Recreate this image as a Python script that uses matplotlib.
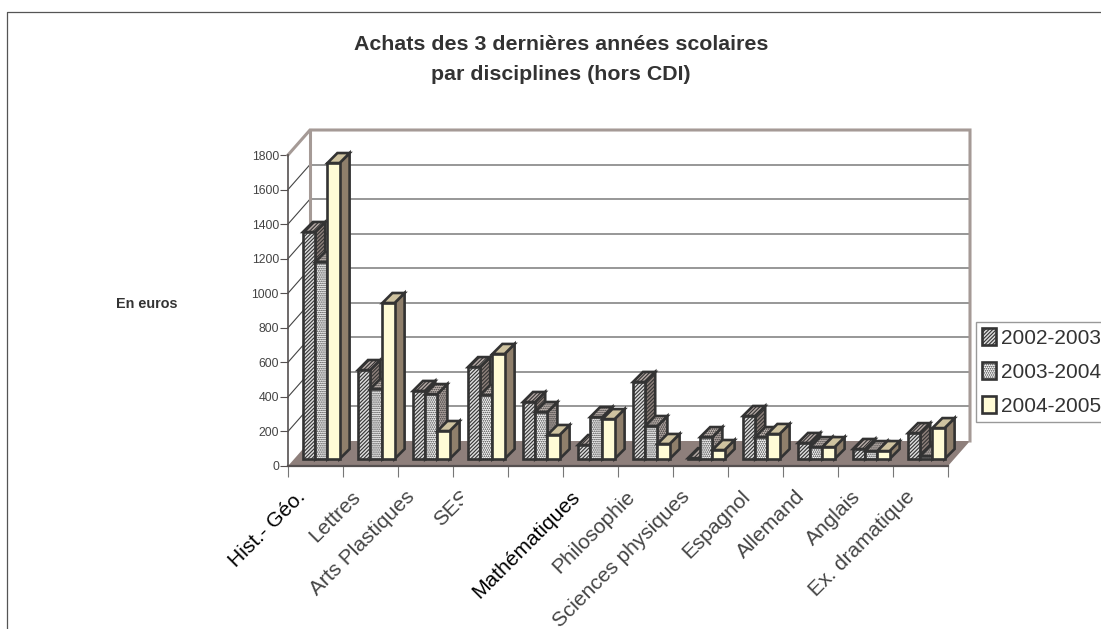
import matplotlib
matplotlib.use('Agg')
import matplotlib.pyplot as plt
from matplotlib.patches import Polygon, Patch
from matplotlib.lines import Line2D
from matplotlib.transforms import Bbox

plt.rcParams['font.family'] = ['Liberation Sans', 'DejaVu Sans']
plt.rcParams['hatch.linewidth'] = 0.8

# Data
categories = ['Hist.- Géo.', 'Lettres', 'Arts Plastiques', 'SES', '', 'Mathématiques',
              'Philosophie', 'Sciences physiques', 'Espagnol', 'Allemand', 'Anglais',
              'Ex. dramatique']
years = ['2002-2003', '2003-2004', '2004-2005']
v_2002 = [1314, 515, 394, 532, 330, 81, 446, 5, 249, 93, 58, 150]
v_2003 = [1140, 405, 376, 370, 272, 243, 191, 127, 127, 69, 46, 17]
v_2004 = [1713, 903, 162, 608, 139, 231, 87, 52, 145, 69, 46, 179]
y_ticks = list(range(0, 2000, 200))

W, H = 1101, 629
fig = plt.figure(figsize=(W / 100, H / 100), dpi=100)
# axes box = front axis of the 3D chart
ax = fig.add_axes([288 / W, 1 - 466 / H, 660 / W, 311 / H])
ax.set_xlim(0, 12)
ax.set_ylim(0, 1800)
ax.patch.set_visible(False)

# pixel sizes in data units
px = 12 / 660
py = 1800 / 311
dx, dy = 22 * px, 25 * py
wall = '#a59a96'

# floor and back wall
ax.add_patch(Polygon([(0, 0), (12, 0), (12 + dx, dy), (dx, dy)], fc='#8e7f7b', ec='none',
                     clip_on=False, zorder=1))
for t in y_ticks[1:-1]:
    ax.plot([dx, 12 + dx], [t + dy, t + dy], color='#858585', lw=1.2, clip_on=False, zorder=1.5)
    ax.plot([0, dx], [t, t + dy], color='#444444', lw=0.8, clip_on=False, zorder=1.5)
ax.plot([0, dx, 12 + dx, 12 + dx], [1800, 1800 + dy, 1800 + dy, dy], color=wall, lw=2.2,
        clip_on=False, zorder=1.6, solid_joinstyle='miter')
ax.plot([dx, dx], [dy, 1800 + dy], color=wall, lw=2.2, clip_on=False, zorder=1.6)


def draw_bar(x0, h, fc, side, top, hatch):
    w = 12.2 * px
    b = 7 * py
    ddx, ddy = 10 * px, 10 * py
    ec = '#333333'
    lw = 1.9
    ax.add_patch(Polygon([(x0 + w, b), (x0 + w + ddx, b + ddy), (x0 + w + ddx, b + h + ddy),
                          (x0 + w, b + h)], fc=side, ec=ec, lw=lw, hatch=hatch, clip_on=False, zorder=3))
    ax.add_patch(Polygon([(x0, b + h), (x0 + w, b + h), (x0 + w + ddx, b + h + ddy),
                          (x0 + ddx, b + h + ddy)], fc=top, ec=ec, lw=lw, hatch=hatch, clip_on=False, zorder=3))
    ax.add_patch(Polygon([(x0, b), (x0 + w, b), (x0 + w, b + h), (x0, b + h)], fc=fc, ec=ec,
                         lw=lw, hatch=hatch, clip_on=False, zorder=3))


series = [v_2002, v_2003, v_2004]
styles = [('#dcdcdc', '#8c7f7a', '#b5a9a5', '/////////'),
          ('#ffffff', '#b5a9a5', '#c8bdb8', '........'),
          ('#fffbd6', '#8f7f6b', '#cfc3a0', None)]
for i in range(12):
    for j in range(3):
        x0 = i + (15 + j * 12.2) * px
        fc, side, top, hatch = styles[j]
        draw_bar(x0, series[j][i], fc, side, top, hatch)

# axes lines and ticks
for s in ['top', 'right']:
    ax.spines[s].set_visible(False)
ax.spines['left'].set_color('#555050')
ax.spines['left'].set_linewidth(1.2)
ax.spines['bottom'].set_color('#555050')
ax.spines['bottom'].set_linewidth(1.6)
ax.set_xticks(range(13))
ax.set_xticklabels([])
ax.set_yticks(y_ticks)
ax.tick_params(axis='y', length=6, width=0.8, color='#555050', labelsize=8.8, labelcolor='#444444', pad=0.5)
ax.tick_params(axis='x', length=8, width=0.8, color='#777777')

# category labels
for i, c in enumerate(categories):
    if not c:
        continue
    col = '#000000' if c in ('Hist.- Géo.', 'Mathématiques') else '#444444'
    off = -20 if i < 8 else -15
    t = ax.annotate(c, (i + 0.5, 0), xytext=(off, -21), textcoords='offset pixels', rotation=45,
                    rotation_mode='anchor', ha='right', va='top', fontsize=15, color=col,
                    annotation_clip=False)
    if c == 'SES':
        t.set_clip_on(True)
        t.set_clip_box(Bbox([[0, 0], [463, H]]))

# titles
fig.text(561 / W, 1 - 44 / H, 'Achats des 3 dernières années scolaires', ha='center', va='center',
         fontsize=15.4, fontweight='bold', color='#333333')
fig.text(561 / W, 1 - 74 / H, 'par disciplines (hors CDI)', ha='center', va='center',
         fontsize=15.4, fontweight='bold', color='#333333')
fig.text(147 / W, 1 - 304 / H, 'En euros', ha='center', va='center', fontsize=10.4,
         fontweight='bold', color='#333333')

# legend, runs off the right edge like the original
handles = [Patch(fc=s[0], ec='#333333', lw=1.9, hatch=s[3]) for s in styles]
ax.legend(handles, years, loc='upper left', bbox_to_anchor=(976 / W, 1 - 322 / H),
          bbox_transform=fig.transFigure, fontsize=15, frameon=True, fancybox=False, framealpha=1,
          edgecolor='#999999', handlelength=0.7, handleheight=0.9, handletextpad=0.2,
          labelspacing=0.68, borderpad=0.28, borderaxespad=0, labelcolor='#333333')

# page frame
fig.add_artist(Line2D([7 / W, 7 / W, 1], [0, 1 - 12 / H, 1 - 12 / H], color='#555555', lw=0.9))

fig.savefig('out.png', dpi=100)
